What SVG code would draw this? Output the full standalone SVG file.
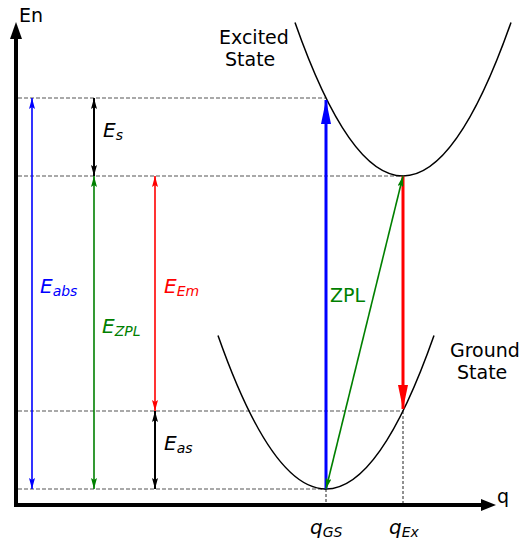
<svg xmlns="http://www.w3.org/2000/svg" width="527" height="541" viewBox="0 0 527 541">
<style>
text{font-family:"DejaVu Sans","Liberation Sans",sans-serif;font-size:19px;fill:#000}
.it{font-style:italic;font-size:20px}
.sub{font-size:14px}
.dash{stroke:#555;stroke-width:1.2;stroke-dasharray:4 2;fill:none}
.vdash{stroke:#222;stroke-width:1;stroke-dasharray:3 2;fill:none}
.curve{fill:none;stroke:#000;stroke-width:1.5}
.thin{stroke-width:1.6;fill:none}
.blk{stroke:#000;stroke-width:2;fill:none}
</style>
<defs>
<marker id="hk" viewBox="0 0 11 6" markerWidth="11" markerHeight="6" refX="11" refY="3" orient="auto-start-reverse" markerUnits="userSpaceOnUse"><path d="M0,0 L11,3 L0,6 L2,3 z" fill="#000"/></marker>
<marker id="hb" viewBox="0 0 11 6" markerWidth="11" markerHeight="6" refX="11" refY="3" orient="auto-start-reverse" markerUnits="userSpaceOnUse"><path d="M0,0 L11,3 L0,6 L2,3 z" fill="#0000ff"/></marker>
<marker id="hg" viewBox="0 0 11 6" markerWidth="11" markerHeight="6" refX="11" refY="3" orient="auto-start-reverse" markerUnits="userSpaceOnUse"><path d="M0,0 L11,3 L0,6 L2,3 z" fill="#008000"/></marker>
<marker id="hr" viewBox="0 0 11 6" markerWidth="11" markerHeight="6" refX="11" refY="3" orient="auto-start-reverse" markerUnits="userSpaceOnUse"><path d="M0,0 L11,3 L0,6 L2,3 z" fill="#ff0000"/></marker>
<marker id="Hb" viewBox="0 0 24 10" markerWidth="24" markerHeight="10" refX="24" refY="5" orient="auto" markerUnits="userSpaceOnUse"><path d="M0,0 L24,5 L0,10 z" fill="#0000ff"/></marker>
<marker id="Hr" viewBox="0 0 24 10" markerWidth="24" markerHeight="10" refX="24" refY="5" orient="auto" markerUnits="userSpaceOnUse"><path d="M0,0 L24,5 L0,10 z" fill="#ff0000"/></marker>
</defs>
<g id="axes">
<polyline points="16,38 16,505 482,505" fill="none" stroke="#000" stroke-width="4"/>
<polygon points="16,22 10,39 22,39" fill="#000"/>
<polygon points="496,505 481,499 481,511" fill="#000"/>
<text x="19" y="22">En</text>
<text x="497" y="503">q</text>
</g>
<g id="levels">
<line class="dash" x1="18" y1="98" x2="326" y2="98"/>
<line class="dash" x1="18" y1="176" x2="403" y2="176"/>
<line class="dash" x1="18" y1="411" x2="403" y2="411"/>
<line class="dash" x1="18" y1="489" x2="326" y2="489"/>
<line class="vdash" x1="326" y1="489" x2="326" y2="503"/>
<line class="vdash" x1="403" y1="411" x2="403" y2="503"/>
</g>
<g id="excited-state">
<path class="curve" d="M295,22.5 Q403,329.5 511,22.5"/>
<text x="219" y="44">Excited</text>
<text x="225" y="66">State</text>
</g>
<g id="ground-state">
<path class="curve" d="M218,335.5 Q326,642.5 434,335.5"/>
<text x="450" y="357">Ground</text>
<text x="457" y="379">State</text>
</g>
<g id="connectors">
<line class="thin" stroke="#0000ff" x1="32" y1="98" x2="32" y2="489" marker-start="url(#hb)" marker-end="url(#hb)"/>
<line class="thin" stroke="#008000" x1="94" y1="176" x2="94" y2="489" marker-start="url(#hg)" marker-end="url(#hg)"/>
<line class="blk" x1="94" y1="98" x2="94" y2="176" marker-start="url(#hk)" marker-end="url(#hk)"/>
<line class="thin" stroke="#ff0000" x1="155" y1="176" x2="155" y2="411" marker-start="url(#hr)" marker-end="url(#hr)"/>
<line class="blk" x1="155" y1="411" x2="155" y2="489" marker-start="url(#hk)" marker-end="url(#hk)"/>
<line stroke="#0000ff" stroke-width="3" x1="326" y1="489" x2="326" y2="100" marker-end="url(#Hb)"/>
<line stroke="#ff0000" stroke-width="3" x1="403" y1="176" x2="403" y2="409" marker-end="url(#Hr)"/>
<line class="thin" stroke="#008000" x1="403" y1="176" x2="326" y2="489" marker-start="url(#hg)" marker-end="url(#hg)"/>
</g>
<g id="labels">
<text class="it" x="103" y="137">E<tspan class="sub" dy="3">s</tspan></text>
<text class="it" x="40" y="293" style="fill:#0000ff">E<tspan class="sub" dy="3">abs</tspan></text>
<text class="it" x="102" y="333" style="fill:#008000">E<tspan class="sub" dy="3">ZPL</tspan></text>
<text class="it" x="164" y="293" style="fill:#ff0000">E<tspan class="sub" dy="3">Em</tspan></text>
<text class="it" x="164" y="450">E<tspan class="sub" dy="3">as</tspan></text>
<text x="330" y="302" style="fill:#008000">ZPL</text>
<text class="it" x="310" y="534">q<tspan class="sub" dy="3">GS</tspan></text>
<text class="it" x="389" y="534">q<tspan class="sub" dy="3">Ex</tspan></text>
</g>
</svg>
